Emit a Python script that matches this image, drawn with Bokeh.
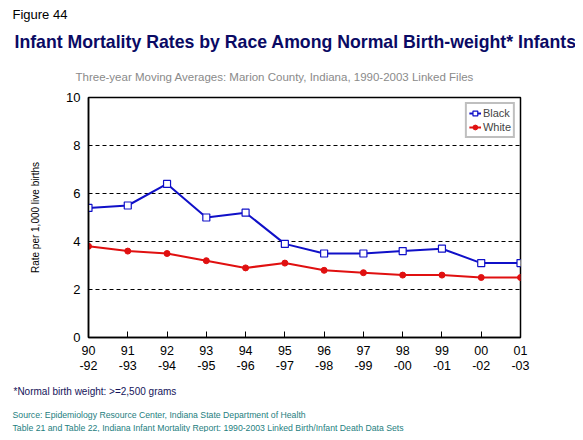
from bokeh.plotting import figure
from bokeh.models import Title, FixedTicker, Legend, LegendItem, Range1d
from bokeh.embed import file_html
from bokeh.resources import INLINE

periods = ["90\n-92", "91\n-93", "92\n-94", "93\n-95", "94\n-96", "95\n-97",
           "96\n-98", "97\n-99", "98\n-00", "99\n-01", "00\n-02", "01\n-03"]
black = [5.4, 5.5, 6.4, 5.0, 5.2, 3.9, 3.5, 3.5, 3.6, 3.7, 3.1, 3.1]
white = [3.8, 3.6, 3.5, 3.2, 2.9, 3.1, 2.8, 2.7, 2.6, 2.6, 2.5, 2.5]
y_ticks = [0, 2, 4, 6, 8, 10]

FONT = "Liberation Sans"
xs = list(range(len(periods)))

W, H = 575, 432
FL, FW = 88, 432
p = figure(width=W, height=H, output_backend="svg", toolbar_location=None,
           x_range=Range1d(0, len(periods) - 1), y_range=Range1d(0, 10),
           min_border_left=FL, min_border_right=W - FL - FW,
           min_border_top=0, min_border_bottom=95)
p.outline_line_color = "black"
p.outline_line_width = 1.5

p.xgrid.grid_line_color = None
p.ygrid.grid_line_color = "black"
p.ygrid.grid_line_dash = "4 3"
p.ygrid.grid_line_width = 1

p.xaxis.ticker = FixedTicker(ticks=xs)
p.xaxis.major_label_overrides = {i: lab for i, lab in zip(xs, periods)}
p.xaxis.major_tick_in = 6
p.xaxis.major_tick_out = 0
p.xaxis.minor_tick_line_color = None
p.xaxis.major_label_text_font = FONT
p.xaxis.major_label_text_font_size = "12.5px"
p.xaxis.major_label_text_color = "black"
p.xaxis.major_label_text_line_height = 1.1
p.xaxis.major_label_standoff = 6
p.xaxis.axis_line_width = 1.5

p.yaxis.ticker = FixedTicker(ticks=y_ticks)
p.yaxis.major_tick_in = 0
p.yaxis.major_tick_out = 0
p.yaxis.minor_tick_line_color = None
p.yaxis.major_label_text_font = FONT
p.yaxis.major_label_text_font_size = "13px"
p.yaxis.major_label_text_color = "black"
p.yaxis.axis_line_width = 1.5
p.yaxis.major_label_standoff = 8
p.yaxis.axis_label = "Rate per 1,000 live births"
p.yaxis.axis_label_text_font = FONT
p.yaxis.axis_label_text_font_size = "10px"
p.yaxis.axis_label_text_font_style = "normal"
p.yaxis.axis_label_text_color = "black"
p.yaxis.axis_label_standoff = 22

bl = p.line(xs, black, line_color="#1010C8", line_width=2)
bm = p.scatter(xs, black, marker="square", size=7, line_color="#1010C8",
               fill_color="white", line_width=1.2)
wl = p.line(xs, white, line_color="#E01010", line_width=2)
wm = p.scatter(xs, white, marker="circle", size=6, line_color="#E01010",
               fill_color="#E01010")

legend = Legend(items=[LegendItem(label="Black", renderers=[bl, bm]),
                       LegendItem(label="White", renderers=[wl, wm])],
                location="top_right")
legend.margin = 5
legend.padding = 2
legend.spacing = 0
legend.glyph_width = 12
legend.glyph_height = 14
legend.label_standoff = 2
legend.label_text_font = FONT
legend.label_text_font_size = "11px"
legend.label_height = 14
legend.border_line_color = "#808080"
legend.border_line_width = 2
legend.background_fill_alpha = 1
p.add_layout(legend)


def title(txt, size, color, place, px, style="normal", standoff=0):
    t = Title(text=txt, text_font=FONT, text_font_size=size, text_color=color,
              text_font_style=style, align="left", offset=px - FL, standoff=standoff)
    p.add_layout(t, place)


# above (first added is nearest the frame)
title("Three-year Moving Averages: Marion County, Indiana, 1990-2003 Linked Files",
      "11.5px", "#8A8A8A", "above", 75, standoff=29)
title("Infant Mortality Rates by Race Among Normal Birth-weight* Infants",
      "17.7px", "#0A0A64", "above", 14, style="bold", standoff=6)
title("Figure 44", "13px", "black", "above", 12, standoff=9)

# below
title("*Normal birth weight: >=2,500 grams", "10px", "#14145A", "below", 13, standoff=16)
title("Source: Epidemiology Resource Center, Indiana State Department of Health",
      "8.7px", "#1E8080", "below", 12, standoff=7)
title("Table 21 and Table 22, Indiana Infant Mortality Report: 1990-2003 Linked Birth/Infant Death Data Sets",
      "8.7px", "#1E8080", "below", 12, standoff=-5)

open("out.html", "w").write(file_html(p, INLINE))
